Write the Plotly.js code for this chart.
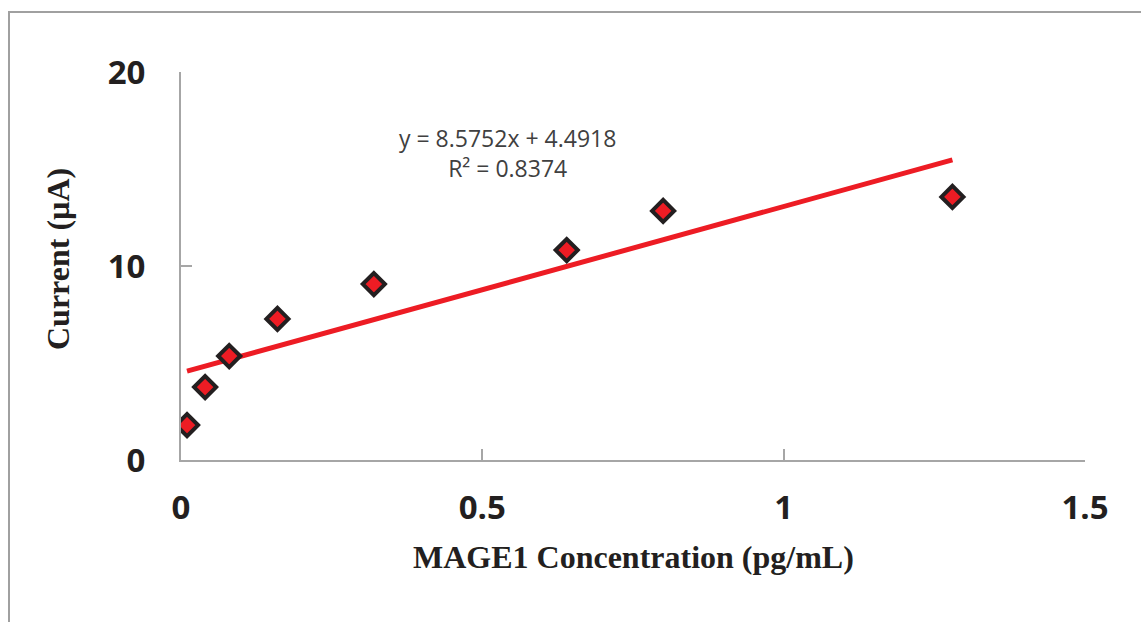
<!DOCTYPE html>
<html>
<head>
<meta charset="utf-8">
<script src="https://cdn.plot.ly/plotly-3.0.1.min.js"></script>
<style>
html,body{margin:0;padding:0;background:#fff;}
#chart{width:1141px;height:622px;}
</style>
</head>
<body>
<div id="chart"></div>
<script>
// Data
var concentration = [0.01, 0.04, 0.08, 0.16, 0.32, 0.64, 0.80, 1.28];
var current = [1.8, 3.76, 5.36, 7.27, 9.07, 10.82, 12.84, 13.56];
var trendSlope = 8.5752;
var trendIntercept = 4.4918;
var trendR2 = 0.8374;
var xTicks = [0, 0.5, 1, 1.5];
var xTickLabels = ['0', '0.5', '1', '1.5'];
var yTicks = [0, 10, 20];
var yTickLabels = ['0', '10', '20'];

var trendX = [concentration[0], concentration[concentration.length - 1]];
var trendY = trendX.map(function (x) { return trendSlope * x + trendIntercept; });

var axisColor = '#a6a6a6';
var tickFont = {family: 'Open Sans, sans-serif', size: 33, color: '#231f20', weight: 'bold'};
var titleFont = {family: 'Liberation Serif, Times New Roman, serif', size: 32, color: '#231f20', weight: 'bold'};

var traces = [
  {
    x: trendX, y: trendY, type: 'scatter', mode: 'lines',
    line: {color: '#ed1c24', width: 5},
    hoverinfo: 'skip', showlegend: false
  },
  {
    x: concentration, y: current, type: 'scatter', mode: 'markers',
    marker: {symbol: 'diamond', size: 17, color: '#ed1c24', line: {color: '#231f20', width: 4}},
    showlegend: false
  }
];

var layout = {
  width: 1141, height: 622,
  margin: {l: 181, r: 56, t: 72, b: 162, pad: 0},
  paper_bgcolor: '#ffffff', plot_bgcolor: '#ffffff',
  showlegend: false,
  xaxis: {
    range: [0, 1.5], tickvals: xTicks, ticktext: xTickLabels,
    showgrid: false, zeroline: false,
    showline: true, linecolor: axisColor, linewidth: 2,
    ticks: 'inside', ticklen: 11, tickwidth: 2, tickcolor: axisColor,
    tickfont: tickFont, ticklabelstandoff: 17
  },
  yaxis: {
    range: [0, 20], tickvals: yTicks, ticktext: yTickLabels,
    showgrid: false, zeroline: false,
    showline: true, linecolor: axisColor, linewidth: 2,
    ticks: 'inside', ticklen: 11, tickwidth: 2, tickcolor: axisColor,
    tickfont: tickFont, ticklabelstandoff: 27
  },
  shapes: [
    {type: 'rect', xref: 'paper', yref: 'paper',
     x0: (9 - 181) / 904, x1: 1.3, y0: -0.6, y1: (460 - 12) / 388,
     line: {color: '#a0a0a0', width: 2}, fillcolor: 'rgba(0,0,0,0)', layer: 'below'}
  ],
  annotations: [
    {xref: 'paper', yref: 'paper', x: (58 - 181) / 904, y: (460 - 259) / 388,
     text: 'Current (µA)', textangle: -90, showarrow: false, font: titleFont,
     xanchor: 'center', yanchor: 'middle'},
    {xref: 'paper', yref: 'paper', x: 0.5, y: (460 - 557) / 388,
     text: 'MAGE1 Concentration (pg/mL)', showarrow: false, font: titleFont,
     xanchor: 'center', yanchor: 'middle'},
    {xref: 'paper', yref: 'paper', x: (507 - 181) / 904, y: (460 - 153) / 388,
     text: 'y = ' + trendSlope + 'x + ' + trendIntercept + '<br>R² = ' + trendR2,
     showarrow: false, align: 'center',
     font: {family: 'Open Sans, sans-serif', size: 23, color: '#404040'},
     xanchor: 'center', yanchor: 'middle'}
  ]
};

Plotly.newPlot('chart', traces, layout, {displayModeBar: false, staticPlot: true});
</script>
</body>
</html>
